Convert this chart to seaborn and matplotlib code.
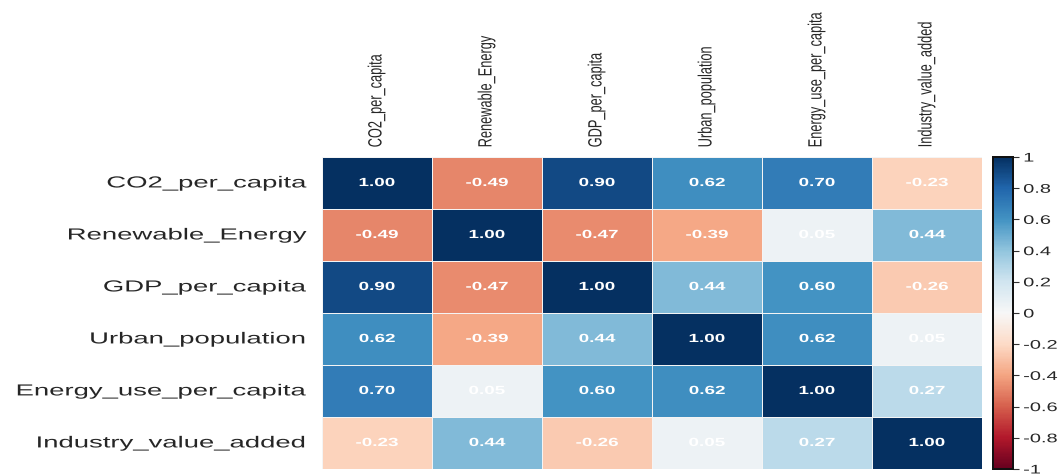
import numpy as np
import pandas as pd
import matplotlib
matplotlib.use("Agg")
import matplotlib.pyplot as plt
import matplotlib.patheffects as pe
from matplotlib.transforms import Affine2D
import seaborn as sns

variables = ["CO2_per_capita", "Renewable_Energy", "GDP_per_capita",
             "Urban_population", "Energy_use_per_capita", "Industry_value_added"]

row_co2 = [1.00, -0.49, 0.90, 0.62, 0.70, -0.23]
row_renew = [-0.49, 1.00, -0.47, -0.39, 0.05, 0.44]
row_gdp = [0.90, -0.47, 1.00, 0.44, 0.60, -0.26]
row_urban = [0.62, -0.39, 0.44, 1.00, 0.62, 0.05]
row_energy = [0.70, 0.05, 0.60, 0.62, 1.00, 0.27]
row_industry = [-0.23, 0.44, -0.26, 0.05, 0.27, 1.00]

cbar_ticks = [1, 0.8, 0.6, 0.4, 0.2, 0, -0.2, -0.4, -0.6, -0.8, -1]
cbar_labels = ["1", "0.8", "0.6", "0.4", "0.2", "0", "-0.2", "-0.4", "-0.6", "-0.8", "-1"]

corr = pd.DataFrame([row_co2, row_renew, row_gdp, row_urban, row_energy, row_industry],
                    index=variables, columns=variables)


class HStretch(pe.AbstractPathEffect):
    """Widen glyphs horizontally about a fixed display x position."""

    def __init__(self, sx, x0):
        super().__init__()
        self.sx = sx
        self.x0 = x0

    def draw_path(self, renderer, gc, tpath, affine, rgbFace=None):
        t = affine + Affine2D().translate(-self.x0, 0).scale(self.sx, 1).translate(self.x0, 0)
        renderer.draw_path(gc, tpath, t, rgbFace)


sns.set_theme(style="white")
plt.rcParams["font.family"] = ["Liberation Sans", "DejaVu Sans"]

fig = plt.figure(figsize=(10.64, 4.77), dpi=100)
ax = fig.add_axes([0.3026, 0.0147, 0.6203, 0.654])
cax = fig.add_axes([0.9335, 0.0147, 0.019, 0.654])

sns.heatmap(corr, ax=ax, cbar_ax=cax, cmap="RdBu", vmin=-1, vmax=1,
            annot=True, fmt=".2f",
            annot_kws={"color": "white", "fontsize": 8.5, "fontweight": "bold"},
            linewidths=0.6, linecolor="#f4f4f4",
            cbar_kws={"ticks": cbar_ticks})

ax.xaxis.tick_top()
ax.set_xticklabels(variables, rotation=90, fontsize=9.2)
ax.set_yticklabels(variables, rotation=0, fontsize=11.5)
ax.tick_params(axis="x", length=0, pad=7)
ax.tick_params(axis="y", length=0, pad=11)
ax.set_xlabel("")
ax.set_ylabel("")

cax.set_yticklabels(cbar_labels)
cax.tick_params(labelsize=9, length=4, width=0.8, color="#333333", pad=3)
for sp in cax.spines.values():
    sp.set_visible(True)
    sp.set_edgecolor("#111111")
    sp.set_linewidth(1.4)

# Widen the lettering, anchoring each text at its aligned edge
fig.canvas.draw()
renderer = fig.canvas.get_renderer()
for lab in ax.get_yticklabels():
    bb = lab.get_window_extent(renderer)
    lab.set_path_effects([HStretch(1.72, bb.x1)])
for lab in ax.get_xticklabels():
    bb = lab.get_window_extent(renderer)
    lab.set_path_effects([HStretch(1.5, (bb.x0 + bb.x1) / 2)])
for txt in ax.texts:
    bb = txt.get_window_extent(renderer)
    txt.set_path_effects([HStretch(1.6, (bb.x0 + bb.x1) / 2)])
for lab in cax.get_yticklabels():
    bb = lab.get_window_extent(renderer)
    lab.set_path_effects([HStretch(1.6, bb.x0)])

fig.savefig("out.png", dpi=100)
